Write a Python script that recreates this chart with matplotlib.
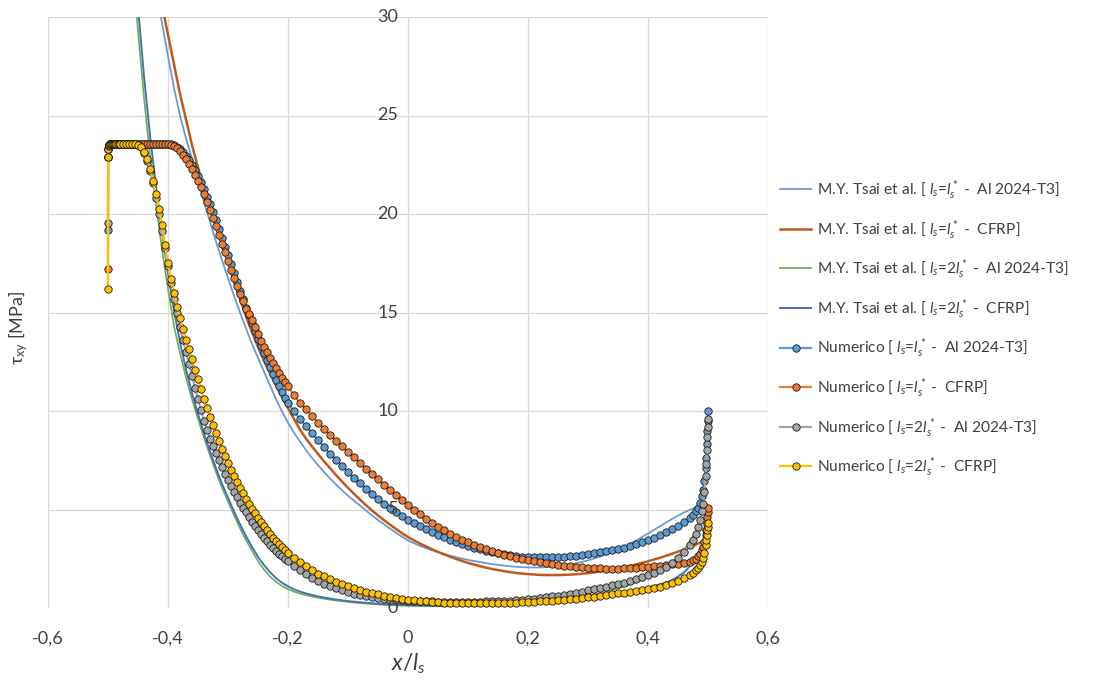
import matplotlib
matplotlib.use("Agg")
import matplotlib.pyplot as plt

plt.rcParams['font.family'] = ['Lato', 'DejaVu Sans']
plt.rcParams['mathtext.fontset'] = 'custom'
plt.rcParams['mathtext.rm'] = 'Lato'
plt.rcParams['mathtext.it'] = 'Lato:italic'
plt.rcParams['mathtext.bf'] = 'Lato:bold'

# ---------------- data ----------------
x_ticks = [-0.6, -0.4, -0.2, 0.0, 0.2, 0.4, 0.6]
x_tick_labels = ["-0,6", "-0,4", "-0,2", "0", "0,2", "0,4", "0,6"]
y_ticks = [0, 5, 10, 15, 20, 25, 30]
y_tick_labels = ["0", "5", "10", "15", "20", "25", "30"]

labels = [
    r"M.Y. Tsai et al. [ $l_s$=$l_s^*$ -  Al 2024-T3]",
    r"M.Y. Tsai et al. [ $l_s$=$l_s^*$ -  CFRP]",
    r"M.Y. Tsai et al. [ $l_s$=2$l_s^*$ -  Al 2024-T3]",
    r"M.Y. Tsai et al. [ $l_s$=2$l_s^*$ -  CFRP]",
    r"Numerico [ $l_s$=$l_s^*$ -  Al 2024-T3]",
    r"Numerico [ $l_s$=$l_s^*$ -  CFRP]",
    r"Numerico [ $l_s$=2$l_s^*$ -  Al 2024-T3]",
    r"Numerico [ $l_s$=2$l_s^*$ -  CFRP]",
]

# analytical solutions (M.Y. Tsai et al.), l_s = l_s*
x_an1 = [-0.42, -0.41, -0.40, -0.39, -0.38, -0.37, -0.36, -0.35, -0.34, -0.33,
         -0.32, -0.31, -0.30, -0.29, -0.28, -0.27, -0.26, -0.25, -0.24, -0.23,
         -0.22, -0.21, -0.20, -0.19, -0.18, -0.17, -0.16, -0.15, -0.14, -0.13,
         -0.12, -0.11, -0.10, -0.09, -0.08, -0.07, -0.06, -0.05, -0.04, -0.03,
         -0.02, -0.01, 0.00,
         0.02, 0.04, 0.06, 0.08, 0.10, 0.12, 0.14, 0.16, 0.18, 0.20, 0.22, 0.24,
         0.26, 0.28, 0.30, 0.32, 0.34, 0.36, 0.38, 0.40, 0.42, 0.44, 0.46, 0.48,
         0.49]
tsai_al_1 = [31.3, 29.7, 28.0, 26.4, 25.0, 23.85, 22.8, 21.75, 20.6, 19.6,
             18.6, 17.65, 16.75, 15.85, 15.0, 14.2, 13.4, 12.7, 12.0, 11.3,
             10.6, 9.98, 9.4, 8.9, 8.45, 8.02, 7.62, 7.25, 6.9, 6.58,
             6.27, 5.98, 5.7, 5.45, 5.2, 4.95, 4.7, 4.47, 4.25, 4.03,
             3.82, 3.62, 3.43,
             3.15, 2.93, 2.74, 2.58, 2.44, 2.33, 2.23, 2.15, 2.09, 2.06, 2.06, 2.09,
             2.16, 2.27, 2.42, 2.61, 2.84, 3.1, 3.42, 3.78, 4.15, 4.52, 4.85, 5.12,
             5.25]
tsai_cfrp_1 = [32.2, 30.6, 29.1, 27.6, 26.1, 24.8, 23.5, 22.35, 21.3, 20.35,
               19.45, 18.55, 17.6, 16.6, 15.7, 14.8, 14.0, 13.25, 12.55, 11.9,
               11.3, 10.7, 10.15, 9.6, 9.05, 8.6, 8.2, 7.82, 7.45, 7.1,
               6.75, 6.42, 6.1, 5.8, 5.5, 5.22, 4.95, 4.7, 4.46, 4.23,
               4.01, 3.8, 3.6,
               3.27, 2.98, 2.72, 2.49, 2.29, 2.12, 1.98, 1.87, 1.78, 1.72, 1.68, 1.67,
               1.68, 1.71, 1.77, 1.85, 1.95, 2.07, 2.21, 2.37, 2.55, 2.75, 2.97, 3.22,
               3.36]

# analytical solutions (M.Y. Tsai et al.), l_s = 2 l_s*
x_an2 = [-0.46, -0.45, -0.44, -0.43, -0.42, -0.41, -0.40, -0.39, -0.38, -0.37,
         -0.36, -0.35, -0.34, -0.33, -0.32, -0.31, -0.30, -0.29, -0.28, -0.27,
         -0.26, -0.25, -0.24, -0.23, -0.22, -0.21, -0.20, -0.19, -0.18, -0.17,
         -0.16, -0.15, -0.14,
         -0.12, -0.10, -0.08, -0.06, -0.04, -0.02, 0.00, 0.02, 0.04, 0.06, 0.08,
         0.10, 0.12, 0.14, 0.16, 0.18, 0.20, 0.22, 0.24, 0.26, 0.28, 0.30, 0.32,
         0.34, 0.36, 0.38, 0.40, 0.42, 0.44, 0.46, 0.48,
         0.49]
tsai_al_2 = [33.0, 29.3, 25.9, 23.0, 20.5, 18.2, 16.2, 14.3, 12.95, 11.7,
             10.6, 9.6, 8.65, 7.75, 6.9, 6.1, 5.4, 4.7, 4.05, 3.45,
             2.9, 2.38, 1.95, 1.6, 1.33, 1.12, 0.96, 0.83, 0.73, 0.65,
             0.58, 0.52, 0.47,
             0.38, 0.31, 0.25, 0.2, 0.16, 0.13, 0.11, 0.1, 0.09, 0.09, 0.1,
             0.11, 0.13, 0.15, 0.18, 0.21, 0.25, 0.3, 0.36, 0.43, 0.52, 0.62, 0.75,
             0.9, 1.08, 1.3, 1.57, 1.9, 2.32, 2.95, 3.85,
             4.4]
tsai_cfrp_2 = [34.0, 30.5, 27.0, 24.0, 21.4, 19.1, 17.0, 15.1, 13.5, 12.1,
               10.9, 9.85, 8.85, 7.95, 7.1, 6.3, 5.6, 4.9, 4.25, 3.65,
               3.1, 2.6, 2.18, 1.82, 1.52, 1.28, 1.1, 0.95, 0.83, 0.74,
               0.66, 0.59, 0.53,
               0.43, 0.35, 0.29, 0.24, 0.2, 0.17, 0.15, 0.13, 0.12, 0.12, 0.12,
               0.13, 0.14, 0.16, 0.18, 0.21, 0.24, 0.28, 0.32, 0.37, 0.43, 0.5, 0.58,
               0.67, 0.78, 0.9, 1.04, 1.2, 1.4, 1.8, 2.45,
               3.0]

# numerical results, l_s = l_s*
x_num1 = [-0.5, -0.4998, -0.4995, -0.499, -0.498, -0.496, -0.494, -0.491, -0.488, -0.484,
          -0.48, -0.475, -0.47, -0.465, -0.46, -0.455, -0.45, -0.445, -0.44, -0.435,
          -0.43, -0.425,
          -0.42, -0.415, -0.41, -0.405, -0.40, -0.395, -0.39, -0.385, -0.38, -0.375,
          -0.37, -0.365, -0.36, -0.355, -0.35, -0.345, -0.34, -0.335, -0.33, -0.325,
          -0.32, -0.315, -0.31, -0.305, -0.30, -0.295, -0.29, -0.285, -0.28, -0.275,
          -0.27, -0.265, -0.26, -0.255, -0.25, -0.245, -0.24, -0.235, -0.23, -0.225,
          -0.22, -0.215, -0.21, -0.205, -0.20,
          -0.19, -0.18, -0.17, -0.16, -0.15, -0.14, -0.13, -0.12, -0.11, -0.10,
          -0.09, -0.08, -0.07, -0.06, -0.05, -0.04, -0.03, -0.02, -0.01, 0.00,
          0.01, 0.02, 0.03, 0.04, 0.05, 0.06, 0.07, 0.08, 0.09, 0.10,
          0.11, 0.12, 0.13, 0.14, 0.15, 0.16, 0.17, 0.18, 0.19, 0.20,
          0.21, 0.22, 0.23, 0.24, 0.25, 0.26, 0.27, 0.28, 0.29, 0.30,
          0.31, 0.32, 0.33, 0.34, 0.35, 0.36, 0.37, 0.38, 0.39, 0.40,
          0.41, 0.42, 0.43, 0.44, 0.45, 0.46, 0.47,
          0.475, 0.48, 0.484, 0.487, 0.49, 0.492, 0.494, 0.496, 0.497, 0.498,
          0.499, 0.4995, 0.5]
num_al_1 = [19.2, 22.9, 23.3, 23.45, 23.5, 23.55, 23.55, 23.55, 23.55, 23.55,
            23.55, 23.55, 23.55, 23.55, 23.55, 23.55, 23.55, 23.55, 23.55, 23.55,
            23.55, 23.55,
            23.55, 23.55, 23.55, 23.55, 23.55, 23.55, 23.5, 23.42, 23.3, 23.15,
            22.95, 22.75, 22.5, 22.22, 21.92, 21.6, 21.25, 20.88, 20.5, 20.1,
            19.68, 19.25, 18.8, 18.35, 17.9, 17.45, 17.0, 16.55, 16.1, 15.68,
            15.25, 14.85, 14.45, 14.05, 13.65, 13.28, 12.92, 12.57, 12.23, 11.9,
            11.58, 11.27, 10.97, 10.68, 10.4,
            9.98, 9.6, 9.24, 8.88, 8.53, 8.18, 7.84, 7.52, 7.2, 6.9,
            6.61, 6.33, 6.06, 5.8, 5.55, 5.3, 5.07, 4.85, 4.65, 4.46,
            4.3, 4.14, 3.99, 3.85, 3.71, 3.58, 3.46, 3.35, 3.24, 3.14,
            3.05, 2.97, 2.9, 2.83, 2.77, 2.72, 2.68, 2.64, 2.61, 2.59,
            2.58, 2.57, 2.57, 2.58, 2.59, 2.61, 2.63, 2.66, 2.69, 2.73,
            2.77, 2.82, 2.87, 2.93, 3.0, 3.07, 3.15, 3.24, 3.34, 3.45,
            3.57, 3.7, 3.84, 4.0, 4.17, 4.35, 4.57,
            4.7, 4.9, 5.1, 5.35, 5.7, 6.0, 6.45, 7.1, 7.6, 8.3,
            9.0, 9.5, 10.0]
num_cfrp_1 = [17.2, 22.9, 23.3, 23.45, 23.5, 23.55, 23.55, 23.55, 23.55, 23.55,
              23.55, 23.55, 23.55, 23.55, 23.55, 23.55, 23.55, 23.55, 23.55, 23.55,
              23.55, 23.55,
              23.55, 23.55, 23.55, 23.55, 23.55, 23.5, 23.45, 23.35, 23.2, 23.0,
              22.8, 22.55, 22.3, 22.0, 21.7, 21.35, 21.0, 20.6, 20.2, 19.8,
              19.4, 18.95, 18.5, 18.05, 17.6, 17.17, 16.75, 16.35, 15.95, 15.57,
              15.2, 14.9, 14.6, 14.25, 13.9, 13.57, 13.25, 12.97, 12.7, 12.45,
              12.2, 11.95, 11.7, 11.47, 11.25,
              10.8, 10.4, 10.1, 9.75, 9.4, 9.1, 8.8, 8.5, 8.2, 7.92,
              7.64, 7.36, 7.08, 6.8, 6.53, 6.26, 6.0, 5.74, 5.48, 5.23,
              4.98, 4.75, 4.53, 4.32, 4.13, 3.95, 3.78, 3.62, 3.47, 3.33,
              3.2, 3.08, 2.97, 2.87, 2.78, 2.7, 2.62, 2.55, 2.48, 2.42,
              2.37, 2.32, 2.27, 2.23, 2.19, 2.15, 2.12, 2.09, 2.06, 2.04,
              2.02, 2.01, 2.0, 2.0, 2.0, 2.01, 2.02, 2.04, 2.06, 2.08,
              2.11, 2.14, 2.17, 2.21, 2.25, 2.3, 2.36,
              2.42, 2.5, 2.62, 2.75, 2.92, 3.1, 3.35, 3.7, 3.95, 4.25,
              4.6, 4.85, 5.1]

# numerical results, l_s = 2 l_s*
x_num2 = [-0.5, -0.4998, -0.4995, -0.499, -0.498, -0.497, -0.496, -0.495, -0.494, -0.492,
          -0.49, -0.488, -0.486, -0.484, -0.482, -0.48,
          -0.475, -0.47, -0.465, -0.46, -0.455, -0.45, -0.445, -0.44, -0.435, -0.43,
          -0.425, -0.42, -0.415, -0.41, -0.405, -0.40, -0.395, -0.39, -0.385, -0.38,
          -0.375, -0.37, -0.365, -0.36, -0.355, -0.35, -0.345, -0.34, -0.335, -0.33,
          -0.325, -0.32, -0.315, -0.31, -0.305, -0.30, -0.295, -0.29, -0.285, -0.28,
          -0.275, -0.27, -0.265, -0.26, -0.255, -0.25, -0.245, -0.24, -0.235, -0.23,
          -0.225, -0.22, -0.215, -0.21, -0.205, -0.20,
          -0.19, -0.18, -0.17, -0.16, -0.15, -0.14, -0.13, -0.12, -0.11, -0.10,
          -0.09, -0.08, -0.07, -0.06, -0.05, -0.04, -0.03, -0.02, -0.01, 0.00,
          0.01, 0.02, 0.03, 0.04, 0.05, 0.06, 0.07, 0.08, 0.09, 0.10,
          0.11, 0.12, 0.13, 0.14, 0.15, 0.16, 0.17, 0.18, 0.19, 0.20,
          0.21, 0.22, 0.23, 0.24, 0.25, 0.26, 0.27, 0.28, 0.29, 0.30,
          0.31, 0.32, 0.33, 0.34, 0.35, 0.36, 0.37, 0.38, 0.39, 0.40,
          0.41, 0.42, 0.43, 0.44, 0.45, 0.46, 0.47,
          0.475, 0.48, 0.484, 0.487, 0.49, 0.492, 0.494, 0.496, 0.497, 0.498,
          0.499, 0.4995, 0.5]
num_al_2 = [19.55, 22.9, 23.3, 23.45, 23.5, 23.55, 23.55, 23.55, 23.55, 23.55,
            23.55, 23.55, 23.55, 23.55, 23.55, 23.55,
            23.55, 23.55, 23.55, 23.55, 23.55, 23.5, 23.38, 23.1, 22.7, 22.2,
            21.55, 20.8, 20.0, 19.15, 18.25, 17.35, 16.5, 15.7, 14.95, 14.25,
            13.6, 12.98, 12.38, 11.8, 11.18, 10.6, 10.04, 9.5, 9.04, 8.6,
            8.2, 7.85, 7.49, 7.15, 6.82, 6.5, 6.19, 5.9, 5.62, 5.35,
            5.09, 4.85, 4.61, 4.38, 4.16, 3.95, 3.76, 3.57, 3.39, 3.22,
            3.06, 2.9, 2.76, 2.62, 2.49, 2.37,
            2.14, 1.94, 1.72, 1.53, 1.36, 1.22, 1.1, 0.99, 0.9, 0.8,
            0.72, 0.65, 0.59, 0.54, 0.5, 0.46, 0.43, 0.41, 0.39, 0.37,
            0.36, 0.35, 0.34, 0.33, 0.32, 0.32, 0.31, 0.31, 0.31, 0.31,
            0.31, 0.32, 0.33, 0.34, 0.35, 0.36, 0.38, 0.4, 0.42, 0.45,
            0.48, 0.51, 0.55, 0.59, 0.63, 0.67, 0.72, 0.77, 0.83, 0.89,
            0.95, 1.01, 1.08, 1.15, 1.22, 1.29, 1.37, 1.46, 1.56, 1.66,
            1.78, 1.92, 2.08, 2.3, 2.55, 2.85, 3.2,
            3.45, 3.75, 4.1, 4.45, 4.9, 5.3, 5.9, 6.7, 7.3, 8.0,
            8.7, 9.2, 9.6]
num_cfrp_2 = [16.2, 22.9, 23.3, 23.45, 23.5, 23.55, 23.55, 23.55, 23.55, 23.55,
              23.55, 23.55, 23.55, 23.55, 23.55, 23.55,
              23.55, 23.55, 23.55, 23.55, 23.55, 23.5, 23.4, 23.15, 22.8, 22.3,
              21.7, 21.0, 20.25, 19.45, 18.45, 17.5, 16.7, 15.98, 15.3, 14.7,
              14.15, 13.62, 13.15, 12.62, 12.1, 11.6, 11.1, 10.62, 10.15, 9.7,
              9.27, 8.86, 8.46, 8.08, 7.72, 7.37, 7.03, 6.71, 6.4, 6.1,
              5.82, 5.55, 5.29, 5.04, 4.8, 4.57, 4.35, 4.14, 3.94, 3.75,
              3.57, 3.4, 3.24, 3.08, 2.94, 2.8,
              2.55, 2.32, 2.11, 1.92, 1.75, 1.6, 1.46, 1.33, 1.21, 1.1,
              1.0, 0.91, 0.83, 0.76, 0.69, 0.63, 0.57, 0.52, 0.47, 0.43,
              0.39, 0.36, 0.33, 0.31, 0.29, 0.27, 0.26, 0.25, 0.24, 0.23,
              0.23, 0.23, 0.23, 0.23, 0.24, 0.25, 0.26, 0.27, 0.28, 0.3,
              0.31, 0.33, 0.35, 0.37, 0.39, 0.42, 0.45, 0.48, 0.51, 0.54,
              0.58, 0.62, 0.66, 0.7, 0.74, 0.78, 0.82, 0.87, 0.92, 0.97,
              1.03, 1.09, 1.16, 1.25, 1.36, 1.5, 1.7,
              1.8, 1.92, 2.05, 2.18, 2.35, 2.55, 2.8, 3.2, 3.45, 3.7,
              3.95, 4.1, 4.3]

# ---------------- styles ----------------
c_tsai = ['#6A9AD4', '#C05A1A', '#70AD47', '#3F73B8']
lw_tsai = [1.3, 1.8, 1.2, 1.4]
c_num = ['#5B9BD5', '#ED7D31', '#A5A5A5', '#FFC000']
txt_color = '#404040'

fig = plt.figure(figsize=(10.98, 6.84), dpi=100)
ax = fig.add_axes([48 / 1098, 1 - 608 / 684, 720 / 1098, 591 / 684])

tsai_series = [(x_an1, tsai_al_1), (x_an1, tsai_cfrp_1), (x_an2, tsai_al_2), (x_an2, tsai_cfrp_2)]
num_series = [(x_num1, num_al_1), (x_num1, num_cfrp_1), (x_num2, num_al_2), (x_num2, num_cfrp_2)]

handles = []
for i, (xs, ys) in enumerate(tsai_series):
    h, = ax.plot(xs, ys, color=c_tsai[i], lw=lw_tsai[i], zorder=2)
    handles.append(h)
for i, (xs, ys) in enumerate(num_series):
    h, = ax.plot(xs, ys, color=c_num[i], lw=1.6, marker='o', ms=5.3,
                 mfc=c_num[i], mec='#1a1a1a', mew=0.6, zorder=3 + i)
    handles.append(h)

ax.set_xlim(-0.6, 0.6)
ax.set_ylim(0, 30)
ax.set_xticks(x_ticks)
ax.set_xticklabels(x_tick_labels)
ax.set_yticks(y_ticks)
ax.set_yticklabels([])
ax.grid(True, color='#D9D9D9', linewidth=0.9)
ax.set_axisbelow(True)
for s in ['top', 'right', 'bottom', 'left']:
    ax.spines[s].set_visible(False)
ax.tick_params(axis='both', length=0, labelsize=13, colors=txt_color)
ax.tick_params(axis='x', pad=16)

# y tick labels next to the x = 0 line, drawn on top
for yv, lab in zip(y_ticks, y_tick_labels):
    ax.annotate(lab, xy=(0.0, yv), xycoords='data', xytext=(-7, 0),
                textcoords='offset points', ha='right', va='center',
                fontsize=13, color=txt_color, zorder=20, annotation_clip=False)

fig.text(408 / 1098, 1 - 664 / 684, r"$x/l_s$", ha='center', va='center',
         fontsize=16.5, color=txt_color)
fig.text(18 / 1098, 1 - 328 / 684, r"τ$_{\mathrm{xy}}$ [MPa]", ha='center', va='center',
         rotation=90, fontsize=13, color=txt_color)

fig.legend(handles, labels, loc='upper left', bbox_to_anchor=(766 / 1098, 1 - 164 / 684),
           frameon=False, fontsize=11.2, labelspacing=1.01, handlelength=2.0,
           handletextpad=0.35, labelcolor=txt_color)

fig.savefig("out.png", dpi=100)
